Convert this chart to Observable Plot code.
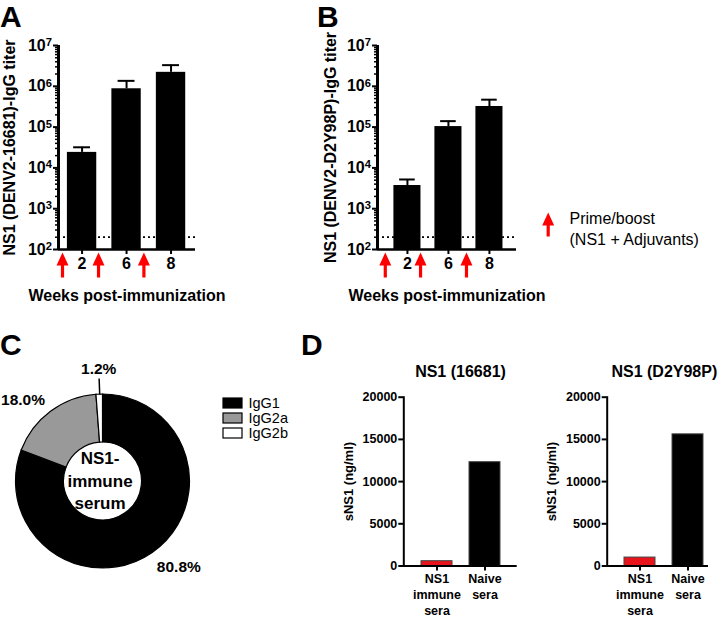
<!DOCTYPE html>
<html>
<head>
<meta charset="utf-8">
<script src="https://cdn.jsdelivr.net/npm/d3@7"></script>
<script src="https://cdn.jsdelivr.net/npm/@observablehq/plot@0.6"></script>
<style>
  html, body { margin: 0; padding: 0; background: #fff; }
  #fig { position: relative; width: 721px; height: 617px; overflow: hidden; font-family: "Liberation Sans", Arial, sans-serif; }
  #fig svg { position: absolute; overflow: visible; }
  .letter { position: absolute; font-weight: bold; font-size: 30px; line-height: 1.12; }
</style>
</head>
<body>
<div id="fig">
  <div class="letter" style="left:0px; top:0px;">A</div>
  <div class="letter" style="left:317px; top:0px;">B</div>
  <div class="letter" style="left:0px; top:328px;">C</div>
  <div class="letter" style="left:301px; top:328px;">D</div>
</div>
<script>
// ---------- data ----------
const weeks = ["2", "6", "8"];
const titerA = [24000, 870000, 2200000];
const titerAErr = [32000, 1360000, 3300000];
const titerB = [3700, 103000, 320000];
const titerBErr = [5200, 140000, 470000];
const titerYDomain = [1e2, 1e7];
const titerYTicks = [1e2, 1e3, 1e4, 1e5, 1e6, 1e7];
const detectionLimit = 200;
const arrowSlotsA = [0.56, 1.37, 2.39];
const arrowSlotsB = [0.46, 1.32, 2.44];
const arrowLegend = "Prime/boost\n(NS1 + Adjuvants)";

const subclasses = ["IgG1", "IgG2a", "IgG2b"];
const subclassPct = [80.8, 18.0, 1.2];
const subclassColors = ["#000000", "#999999", "#ffffff"];
const donutCenterText = "NS1-\nimmune\nserum";

const sera = ["NS1\nimmune\nsera", "Naive\nsera"];
const seraColors = ["#e8141c", "#000000"];
const sns1_16681 = [570, 12300];
const sns1_D2Y98P = [1000, 15600];
const sns1Ticks = [0, 5000, 10000, 15000, 20000];
const sns1Domain = [0, 20000];

// ---------- helpers ----------
const fig = document.getElementById("fig");
const FONT = '"Liberation Sans", Arial, sans-serif';
const baseStyle = {fontFamily: FONT, background: "transparent", color: "black", overflow: "visible"};
function place(el, left, top) { el.style.left = left + "px"; el.style.top = top + "px"; fig.appendChild(el); }
const supMap = {"0":"⁰","1":"¹","2":"²","3":"³","4":"⁴","5":"⁵","6":"⁶","7":"⁷","8":"⁸","9":"⁹"};
const supBack = Object.fromEntries(Object.entries(supMap).map(([k, v]) => [v, k]));
const pow10 = d => "10" + String(Math.round(Math.log10(d))).split("").map(c => supMap[c]).join("");
// turn "10⁷" tick labels into "10" + raised tspan exponent (still real text)
function raiseExponents(svg) {
  svg.querySelectorAll("text").forEach(t => {
    const s = t.textContent;
    if (!/^10[⁰¹²³⁴⁵⁶⁷⁸⁹]+$/.test(s)) return;
    const exp = s.slice(2).split("").map(c => supBack[c]).join("");
    t.textContent = "10";
    const ts = document.createElementNS("http://www.w3.org/2000/svg", "tspan");
    ts.setAttribute("dy", "-0.42em");
    ts.setAttribute("font-size", "0.7em");
    ts.textContent = exp;
    t.appendChild(ts);
  });
  return svg;
}
const arrowShape = {
  draw(ctx, l) {
    const h = 13, w = 6, s = 1.6;
    ctx.moveTo(0, -l);
    ctx.lineTo(w, -l + h);
    ctx.lineTo(s, -l + h);
    ctx.lineTo(s, 0);
    ctx.lineTo(-s, 0);
    ctx.lineTo(-s, -l + h);
    ctx.lineTo(-w, -l + h);
    ctx.closePath();
  }
};

function titerPanel({values, errs, arrows, xDomain, yTitle, width, height, marginLeft, marginRight, yTitleX}) {
  const data = weeks.map((w, i) => ({slot: i + 1, week: w, value: values[i], err: errs[i]}));
  const minor = d3.scaleLog().domain(titerYDomain).ticks().filter(t => !titerYTicks.includes(t));
  return raiseExponents(Plot.plot({
    width, height,
    marginTop: 45, marginBottom: height - 249, marginLeft, marginRight,
    style: baseStyle,
    x: {type: "linear", domain: xDomain, label: null},
    y: {type: "log", domain: titerYDomain, label: null},
    marks: [
      Plot.ruleY([detectionLimit], {stroke: "black", strokeWidth: 1.8, strokeDasharray: "2,3"}),
      Plot.ruleX(data, {x: "slot", y1: "value", y2: "err", stroke: "black", strokeWidth: 2}),
      Plot.ruleY(data, {y: "err", x1: d => d.slot - 0.19, x2: d => d.slot + 0.19, stroke: "black", strokeWidth: 2}),
      Plot.rect(data, {x1: d => d.slot - 0.33, x2: d => d.slot + 0.33, y1: titerYDomain[0], y2: "value", fill: "black"}),
      Plot.axisY({ticks: minor, tickSize: 3, tickFormat: () => "", strokeWidth: 1.5, label: null}),
      Plot.axisY({ticks: titerYTicks, tickSize: 5, tickPadding: 1.5, tickFormat: pow10, fontSize: 16, fontWeight: "bold", strokeWidth: 2, label: null}),
      Plot.axisX({ticks: data.map(d => d.slot), tickFormat: s => weeks[s - 1], tickSize: 5, tickPadding: 3, fontSize: 16, fontWeight: "bold", strokeWidth: 2, label: null}),
      Plot.ruleX([xDomain[0]], {stroke: "black", strokeWidth: 3}),
      Plot.ruleY([titerYDomain[0]], {stroke: "black", strokeWidth: 2.5}),
      Plot.vector(arrows, {x: d => d, y: titerYDomain[0], anchor: "end", length: 25, shape: arrowShape, fill: "#ff0000", stroke: "none", dy: 3}),
      Plot.text([yTitle], {text: d => d, frameAnchor: "left", textAnchor: "middle", lineAnchor: "middle", rotate: -90, dx: yTitleX - marginLeft, fontSize: 16, fontWeight: "bold"}),
      Plot.text(["Weeks post-immunization"], {text: d => d, frameAnchor: "bottom", textAnchor: "middle", lineAnchor: "middle", dy: 46, fontSize: 16, fontWeight: "bold"})
    ]
  }));
}

function seraPanel({values, title, width, marginLeft, marginRight, insetRight, yTitleX}) {
  const data = sera.map((s, i) => ({sera: s, value: values[i]}));
  return Plot.plot({
    width, height: 297,
    marginTop: 76.7, marginBottom: 51.5, marginLeft, marginRight,
    style: baseStyle,
    x: {type: "band", domain: sera, padding: 0.36, label: null},
    y: {domain: sns1Domain, label: null},
    color: {domain: sera, range: seraColors},
    marks: [
      Plot.barY(data, {x: "sera", y: "value", fill: "sera", stroke: "#444", strokeWidth: 1}),
      Plot.axisY({ticks: sns1Ticks, tickFormat: d3.format("d"), tickSize: 5, tickPadding: 1.5, fontSize: 12.5, fontWeight: "bold", strokeWidth: 2, label: null}),
      Plot.axisX({tickSize: 5, tickPadding: 1, fontSize: 12.5, fontWeight: "bold", lineHeight: 1.28, strokeWidth: 2, label: null}),
      Plot.frame({anchor: "left", stroke: "black", strokeWidth: 2}),
      Plot.ruleY([0], {stroke: "black", strokeWidth: 2, insetRight}),
      Plot.text([title], {text: d => d, frameAnchor: "top", textAnchor: "middle", lineAnchor: "middle", dy: -25, fontSize: 16, fontWeight: "bold"}),
      Plot.text(["sNS1 (ng/ml)"], {text: d => d, frameAnchor: "left", textAnchor: "middle", lineAnchor: "middle", rotate: -90, dx: yTitleX - marginLeft, fontSize: 13, fontWeight: "bold"})
    ]
  });
}

// ---------- Panel A ----------
place(titerPanel({values: titerA, errs: titerAErr, arrows: arrowSlotsA, xDomain: [0.47, 3.55],
  yTitle: "NS1 (DENV2-16681)-IgG titer", width: 240, height: 310, marginLeft: 58, marginRight: 45, yTitleX: 9}), 0, 0);

// ---------- Panel B ----------
place(titerPanel({values: titerB, errs: titerBErr, arrows: arrowSlotsB, xDomain: [0.27, 3.66],
  yTitle: "NS1 (DENV2-D2Y98P)-IgG titer", width: 230, height: 310, marginLeft: 77, marginRight: 14, yTitleX: 30}), 300, 0);

// arrow legend
place(Plot.plot({
  width: 186, height: 40, margin: 0, style: baseStyle,
  marks: [
    Plot.vector([arrowLegend], {frameAnchor: "left", dx: 12.7, dy: -13, anchor: "end", length: 24, shape: arrowShape, fill: "#ff0000", stroke: "none"}),
    Plot.text([arrowLegend], {text: d => d, frameAnchor: "left", dx: 34, dy: 2.5, textAnchor: "start", fontSize: 16, lineHeight: 1.31})
  ]
}), 535, 205);

// ---------- Panel C ----------
const colorScale = Plot.scale({color: {type: "ordinal", domain: subclasses, range: subclassColors}});
const pieArcs = d3.pie().sort(null).value(d => d.pct)(subclasses.map((s, i) => ({name: s, pct: subclassPct[i]})));
const outerR = 87, innerR = 39;
const labels = pieArcs.map(a => {
  const mid = (a.startAngle + a.endAngle) / 2;
  const small = a.data.pct < 5;
  const r = small ? 113 : 102;
  return {name: a.data.name, pct: a.data.pct, mid, small,
    x: r * Math.sin(mid), y: r * Math.cos(mid),
    anchor: small ? "middle" : (Math.sin(mid) > 0 ? "start" : "end")};
});
function donutMark(index, scales) {
  const cx = scales.x(0), cy = scales.y(0);
  const k = scales.x(1) - scales.x(0);
  const arc = d3.arc().innerRadius(innerR * k).outerRadius(outerR * k);
  const g = d3.create("svg:g").attr("transform", `translate(${cx},${cy})`);
  g.selectAll("path").data(pieArcs).join("path")
    .attr("d", arc)
    .attr("fill", d => colorScale.apply(d.data.name))
    .attr("stroke", "black").attr("stroke-width", 1.2);
  return g.node();
}
const pctText = d => d.pct.toFixed(1) + "%";
const labelStyle = {fontSize: 15.5, fontWeight: "bold", text: pctText, x: "x", y: "y"};
place(Plot.plot({
  width: 340, height: 297, margin: 0, style: baseStyle,
  x: {domain: [-102.5, 237.5], range: [0, 340], axis: null},
  y: {domain: [-136, 161], range: [297, 0], axis: null},
  marks: [
    donutMark,
    Plot.link(labels.filter(d => d.small), {
      x1: d => outerR * Math.sin(d.mid), y1: d => outerR * Math.cos(d.mid),
      x2: d => 103 * Math.sin(d.mid), y2: d => 103 * Math.cos(d.mid),
      stroke: "black", strokeWidth: 1.5}),
    Plot.text(labels.filter(d => d.anchor === "start"), {...labelStyle, textAnchor: "start", dx: -4, dy: 2}),
    Plot.text(labels.filter(d => d.anchor === "end"), {...labelStyle, textAnchor: "end", dx: 3}),
    Plot.text(labels.filter(d => d.anchor === "middle"), {...labelStyle, textAnchor: "middle"}),
    Plot.text([donutCenterText], {text: d => d, x: 0, y: 0, dx: -3, dy: -2, fontSize: 17, fontWeight: "bold", lineHeight: 1.3})
  ]
}), 0, 320);

// legend C
place(Plot.plot({
  width: 100, height: 50, margin: 0, style: baseStyle,
  x: {type: "band", domain: ["swatch"], range: [0, 19], padding: 0, axis: null},
  y: {type: "band", domain: subclasses, range: [0, 50], padding: 0.33, axis: null},
  color: {domain: subclasses, range: subclassColors},
  marks: [
    Plot.cell(subclasses, {x: () => "swatch", y: d => d, fill: d => d, stroke: "black", strokeWidth: 1.2}),
    Plot.text(subclasses, {x: () => "swatch", y: d => d, text: d => d, dx: 15.5, textAnchor: "start", fontSize: 14.5})
  ]
}), 223, 393);

// ---------- Panel D ----------
place(seraPanel({values: sns1_16681, title: "NS1 (16681)", width: 190, marginLeft: 63.3, marginRight: 13.3, insetRight: 0, yTitleX: 348 - 340}), 340, 320);
place(seraPanel({values: sns1_D2Y98P, title: "NS1 (D2Y98P)", width: 191, marginLeft: 76.7, marginRight: 0, insetRight: 13, yTitleX: 551.7 - 530}), 530, 320);
</script>
</body>
</html>
